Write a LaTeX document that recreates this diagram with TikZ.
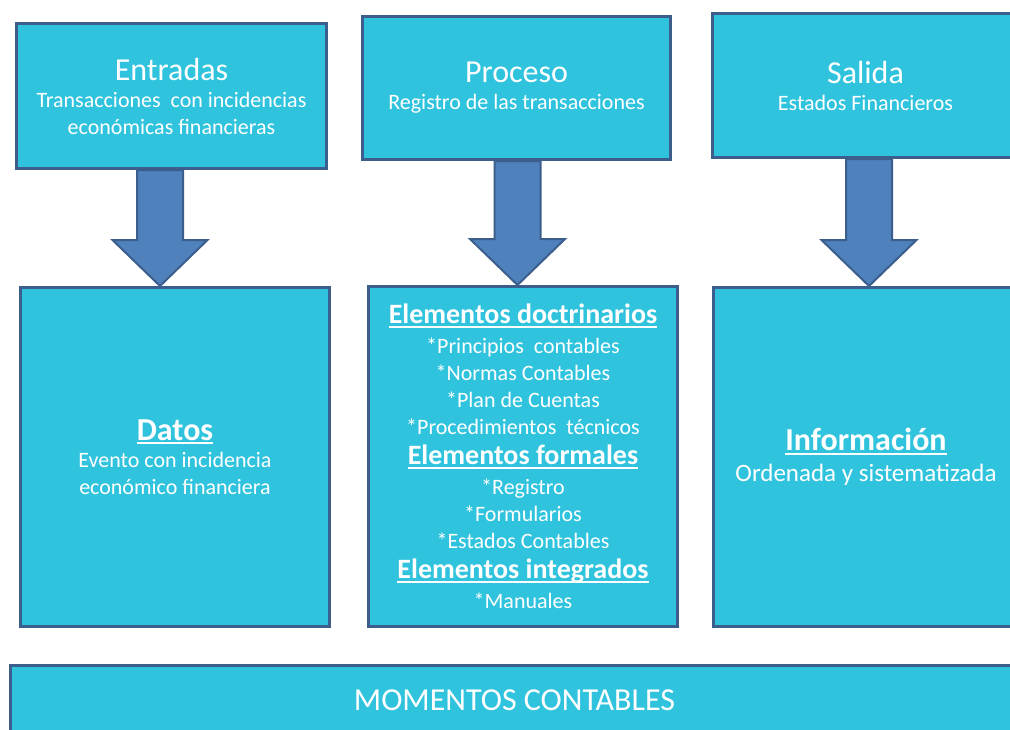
\documentclass[tikz,border=0pt]{standalone}
\usepackage{fontspec}
\setmainfont{Carlito}
\usetikzlibrary{calc}
\definecolor{micyan}{RGB}{47, 195, 222}
\definecolor{miborde}{RGB}{60, 94, 140}
\definecolor{miazul}{RGB}{79, 129, 189}
\tikzset{caja/.style={draw=miborde, line width=3pt, fill=micyan, text=white,
    align=center, anchor=north west, inner sep=0pt,
    font=\fontsize{22}{27}\selectfont},
  flecha/.style={draw=miborde, line width=2pt, fill=miazul, line join=miter}}
% titulo subrayado
\newcommand{\titu}[1]{\setbox0\hbox{#1}\rlap{\rule[-4pt]{\wd0}{2pt}}\box0}
\newcommand{\grande}{\fontsize{32}{36}\selectfont}
\newcommand{\medio}{\fontsize{28}{30}\selectfont\bfseries}
% flecha gruesa: centro x, caja de arriba, caja de abajo
\newcommand{\flechon}[3]{%
  \draw[flecha] ({#1-23},0 |- #2.south) -- ($({#1},0 |- #3.north)+(-23,-46)$)
    -- ++(-24.5,0) -- ({#1},0 |- #3.north) -- ($({#1},0 |- #3.north)+(47.5,-46)$)
    -- ++(-24.5,0) -- ({#1+23},0 |- #2.south) -- cycle;}

\begin{document}
\begin{tikzpicture}[x=1pt, y=-1pt]
\clip (0,0) rectangle (1010,729);
\fill[white] (0,0) rectangle (1010,729);

\node[caja, minimum width=310, minimum height=145] (ent) at (15,22)
  {{\grande Entradas}\\Transacciones\ \ con incidencias\\económicas financieras};
\node[caja, minimum width=308, minimum height=143] (pro) at (361,15)
  {{\grande Proceso}\\Registro de las transacciones};
\node[caja, minimum width=306, minimum height=144] (sal) at (711,12)
  {{\grande Salida}\\Estados Financieros};

\node[caja, minimum width=309, minimum height=339] (dat) at (19,286)
  {{\grande\bfseries\titu{Datos}}\\Evento con incidencia\\económico financiera};
\node[caja, minimum width=309, minimum height=340] (ele) at (367,285)
  {{\medio\titu{Elementos doctrinarios}}\\[3pt]
   *Principios\ \ contables\\*Normas Contables\\*Plan de Cuentas\\
   *Procedimientos\ \ técnicos\\[3pt]
   {\medio\titu{Elementos formales}}\\[3pt]
   *Registro\\*Formularios\\*Estados Contables\\[3pt]
   {\medio\titu{Elementos integrados}}\\[3pt]
   *Manuales};
\node[caja, minimum width=305, minimum height=339] (inf) at (712,286)
  {{\grande\bfseries\titu{Información}}\\[4pt]
   {\fontsize{25}{30}\selectfont Ordenada y sistematizada}};

\node[caja, minimum width=1008, minimum height=70] (mom) at (9,664)
  {\grande MOMENTOS CONTABLES};

\flechon{160}{ent}{dat}
\flechon{517.5}{pro}{ele}
\flechon{869}{sal}{inf}
\end{tikzpicture}
\end{document}
